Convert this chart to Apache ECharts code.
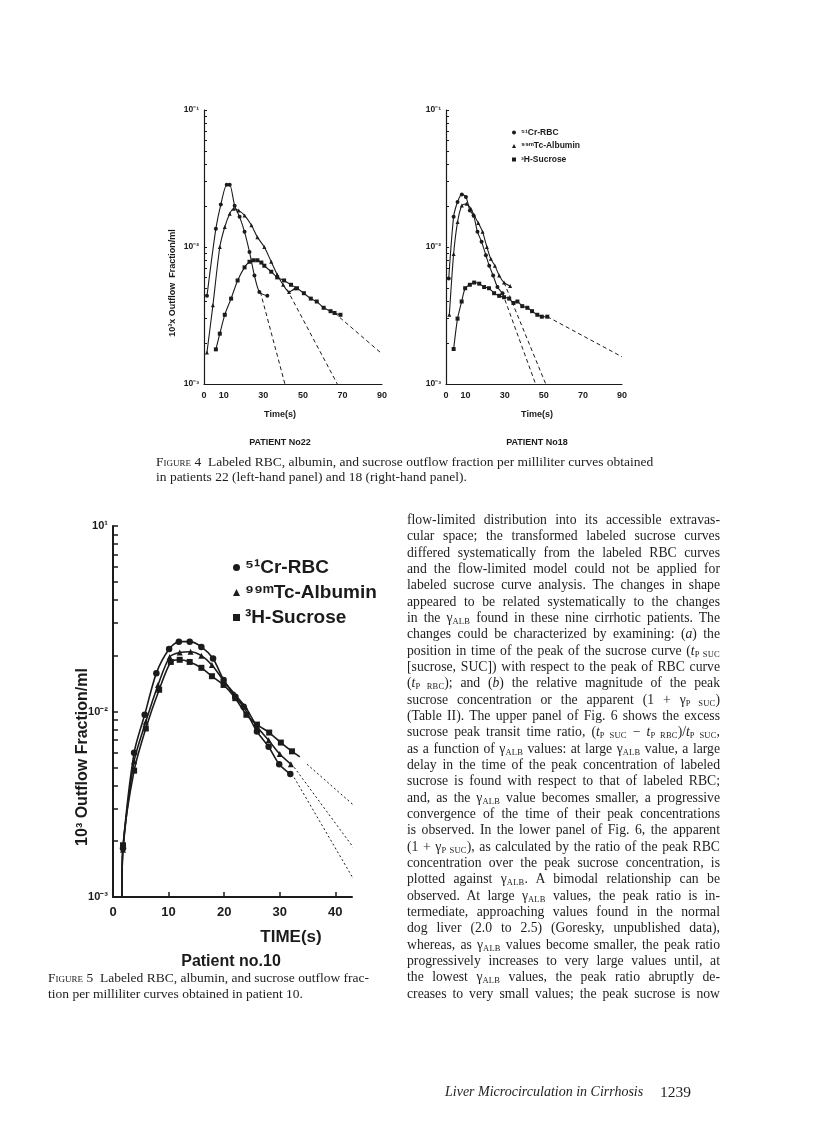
<!DOCTYPE html>
<html>
<head>
<meta charset="utf-8">
<script src="https://cdn.jsdelivr.net/npm/echarts@6/dist/echarts.min.js"></script>
<style>
html,body{margin:0;padding:0;background:#fff;}
#page{position:relative;width:816px;height:1122px;overflow:hidden;background:#fff;}
#chart{position:absolute;left:0;top:0;width:816px;height:1122px;}
.t{position:absolute;font-family:"Liberation Serif","DejaVu Serif",serif;color:#1d1d1d;}
.col{left:407px;top:512px;width:313px;font-size:13.7px;}
.ln{height:16.34px;line-height:16.34px;white-space:nowrap;text-align:justify;text-align-last:justify;}
.ln.l{text-align:left;text-align-last:left;}
sub{font-size:8.5px;vertical-align:-2px;line-height:0;letter-spacing:0.2px;}
.sc{font-variant:small-caps;}
.cap{font-size:13.5px;}
</style>
</head>
<body>
<div id="page">
<div id="chart"></div>

<div class="t cap" style="left:156px;top:454px;width:540px;">
  <div class="ln l" style="height:15px;line-height:15px;"><span class="sc">Figure 4</span>&nbsp;&nbsp;Labeled RBC, albumin, and sucrose outflow fraction per milliliter curves obtained</div>
  <div class="ln l" style="height:15px;line-height:15px;">in patients 22 (left-hand panel) and 18 (right-hand panel).</div>
</div>

<div class="t cap" style="left:48px;top:970px;width:321px;">
  <div class="ln" style="height:16px;line-height:16px;"><span class="sc">Figure 5</span>&nbsp;&nbsp;Labeled RBC, albumin, and sucrose outflow frac-</div>
  <div class="ln l" style="height:16px;line-height:16px;">tion per milliliter curves obtained in patient 10.</div>
</div>

<div class="t col">
<div class="ln">flow-limited distribution into its accessible extravas-</div>
<div class="ln">cular space; the transformed labeled sucrose curves</div>
<div class="ln">differed systematically from the labeled RBC curves</div>
<div class="ln">and the flow-limited model could not be applied for</div>
<div class="ln">labeled sucrose curve analysis. The changes in shape</div>
<div class="ln">appeared to be related systematically to the changes</div>
<div class="ln">in the γ<sub>ALB</sub> found in these nine cirrhotic patients. The</div>
<div class="ln">changes could be characterized by examining: (<i>a</i>) the</div>
<div class="ln">position in time of the peak of the sucrose curve (<i>t</i><sub>P SUC</sub></div>
<div class="ln">[sucrose, SUC]) with respect to the peak of RBC curve</div>
<div class="ln">(<i>t</i><sub>P RBC</sub>); and (<i>b</i>) the relative magnitude of the peak</div>
<div class="ln">sucrose concentration or the apparent (1 + γ<sub>P SUC</sub>)</div>
<div class="ln">(Table II). The upper panel of Fig. 6 shows the excess</div>
<div class="ln">sucrose peak transit time ratio, (<i>t</i><sub>P SUC</sub> − <i>t</i><sub>P RBC</sub>)/<i>t</i><sub>P SUC</sub>,</div>
<div class="ln">as a function of γ<sub>ALB</sub> values: at large γ<sub>ALB</sub> value, a large</div>
<div class="ln">delay in the time of the peak concentration of labeled</div>
<div class="ln">sucrose is found with respect to that of labeled RBC;</div>
<div class="ln">and, as the γ<sub>ALB</sub> value becomes smaller, a progressive</div>
<div class="ln">convergence of the time of their peak concentrations</div>
<div class="ln">is observed. In the lower panel of Fig. 6, the apparent</div>
<div class="ln">(1 + γ<sub>P SUC</sub>), as calculated by the ratio of the peak RBC</div>
<div class="ln">concentration over the peak sucrose concentration, is</div>
<div class="ln">plotted against γ<sub>ALB</sub>. A bimodal relationship can be</div>
<div class="ln">observed. At large γ<sub>ALB</sub> values, the peak ratio is in-</div>
<div class="ln">termediate, approaching values found in the normal</div>
<div class="ln">dog liver (2.0 to 2.5) (Goresky, unpublished data),</div>
<div class="ln">whereas, as γ<sub>ALB</sub> values become smaller, the peak ratio</div>
<div class="ln">progressively increases to very large values until, at</div>
<div class="ln">the lowest γ<sub>ALB</sub> values, the peak ratio abruptly de-</div>
<div class="ln">creases to very small values; the peak sucrose is now</div>
</div>

<div class="t" style="left:445px;top:1084px;font-size:14px;font-style:italic;white-space:nowrap;">Liver Microcirculation in Cirrhosis</div>
<div class="t" style="left:660px;top:1083px;font-size:15.5px;white-space:nowrap;">1239</div>
</div>

<script>
// ---------- DATA (time in s, outflow fraction per ml) ----------
// Patient 22 (Figure 4, left panel)
const p22Rbc = [[1.5,0.0044],[6,0.0136],[8.5,0.0204],[11.5,0.0285],[13,0.0285],[15.5,0.020],[18,0.0166],[20.5,0.0129],[23,0.0092],[25.5,0.0062],[28,0.0047],[32,0.0044]];
const p22Alb = [[1.5,0.0017],[4.5,0.00375],[8,0.0100],[10.5,0.0140],[13,0.0175],[15,0.0190],[17.5,0.0185],[20.5,0.0170],[24,0.0144],[27,0.0118],[30.5,0.0100],[34,0.0078],[37,0.0063],[40,0.0053],[43,0.0047],[46,0.0050]];
const p22Suc = [[6,0.00179],[8,0.00233],[10.5,0.0032],[13.7,0.0042],[17,0.0057],[20.5,0.0071],[23,0.0078],[25,0.0080],[27,0.0080],[29,0.0077],[30.5,0.0073],[34,0.0066],[37,0.0060],[40.5,0.0057],[44,0.0053],[47,0.0050],[50.5,0.0046],[54,0.0042],[57,0.0040],[60.5,0.0036],[64,0.0034],[66,0.0033],[69,0.0032]];
const p22RbcExt = [[28.5,0.0047],[40.9,0.001]];
const p22AlbExt = [[42,0.0049],[67.4,0.001]];
const p22SucExt = [[66,0.0033],[90,0.00166]];

// Patient 18 (Figure 4, right panel)
const p18Rbc = [[1.4,0.0059],[3.9,0.0166],[5.9,0.0213],[8.1,0.0242],[10.2,0.0232],[12.2,0.0185],[14.1,0.017],[16.1,0.0129],[18.2,0.0109],[20.4,0.0087],[22.1,0.0073],[24.1,0.0062],[26.3,0.0051],[28.9,0.0046]];
const p18Alb = [[1.7,0.0032],[3.9,0.0089],[5.9,0.0152],[8.1,0.0201],[10.5,0.0207],[12.7,0.019],[14.4,0.017],[16.5,0.0150],[18.7,0.0129],[20.9,0.0100],[22.9,0.0082],[25,0.0073],[27.2,0.0062],[29.7,0.0055],[32.8,0.0052]];
const p18Suc = [[3.9,0.0018],[5.9,0.0030],[8,0.0040],[9.8,0.0050],[12.2,0.0053],[14.4,0.0055],[17,0.0054],[19.5,0.0051],[22,0.0050],[24.6,0.0046],[27.2,0.0044],[29.7,0.0043],[32.3,0.0042],[34.5,0.0039],[36.5,0.0040],[39,0.0037],[41.6,0.0036],[44,0.0034],[46.7,0.0032],[49,0.0031],[51.8,0.0031]];
const p18RbcExt = [[28.9,0.0046],[45.8,0.001]];
const p18AlbExt = [[29.7,0.0055],[51,0.001]];
const p18SucExt = [[51.8,0.0031],[90,0.00158]];

// Patient 10 (Figure 5)
const p10Start = [1.6,0.001];
const p10Rbc = [[1.8,0.00183],[3.8,0.0060],[5.7,0.0096],[7.8,0.0161],[10.1,0.0217],[11.85,0.0238],[13.8,0.0238],[15.9,0.0223],[18.0,0.0193],[19.9,0.0148],[22.0,0.0120],[23.5,0.0106],[25.9,0.0078],[28.0,0.00646],[29.9,0.0052],[31.9,0.0046]];
const p10Alb = [[1.8,0.0018],[3.8,0.0054],[5.9,0.0088],[8.1,0.0139],[10.2,0.0197],[12.0,0.0208],[13.95,0.021],[15.9,0.020],[17.8,0.0178],[19.8,0.0148],[21.9,0.0124],[23.8,0.0106],[25.9,0.0083],[28.0,0.0070],[30.0,0.0059],[32.0,0.0052]];
const p10Suc = [[1.8,0.0019],[3.8,0.0048],[5.9,0.0081],[8.3,0.0131],[10.4,0.0185],[12.0,0.0190],[13.8,0.0185],[15.9,0.0172],[17.8,0.0155],[19.9,0.0139],[22.0,0.0118],[24.0,0.0096],[25.9,0.0085],[28.1,0.0077],[30.2,0.0068],[32.2,0.0061]];
const p10SucTail = [33.6,0.0057];
const p10RbcExt = [[32.6,0.0044],[43.9,0.00116]];
const p10AlbExt = [[32.6,0.0050],[44.2,0.00169]];
const p10SucExt = [[34.9,0.0052],[44.3,0.00294]];

// Tick labels
const fig4XTicks = [0,10,30,50,70,90];
const fig5XTicks = [0,10,20,30,40];
const fig4YLabels = {'-1':'10⁻¹','-2':'10⁻²','-3':'10⁻³'};
const fig5YLabels = {'-1':'10¹','-2':'10⁻²','-3':'10⁻³'};
const names = ['⁵¹Cr-RBC','⁹⁹ᵐTc-Albumin','³H-Sucrose'];

// ---------- CHART ----------
const INK = '#1b1b1b';
const FONT = '"Liberation Sans", Arial, sans-serif';
const lg = v => Math.log10(v);
const toLog = arr => arr.map(p => [p[0], lg(p[1])]);

// log-decade tick positions 1..9 x 10^d
const yTicks = [];
for (const d of [-3,-2]) for (let k=1;k<=9;k++) yTicks.push(Math.log10(k)+d);
yTicks.push(-1);

const chart = echarts.init(document.getElementById('chart'), null, {renderer:'canvas'});

function xAxis(gi, max, ticks, big) {
  return {
    type:'value', gridIndex:gi, min:0, max:max,
    axisLine:{show:true, lineStyle:{color:INK, width: big?2:1.2}},
    axisTick:{show: big, inside:true, length:5, customValues: ticks, lineStyle:{color:INK,width:1.5}},
    axisLabel:{customValues: ticks, color:INK, fontFamily:FONT, fontWeight:'bold', fontSize: big?13:9, margin: big?9:7},
    splitLine:{show:false}
  };
}
function yAxis(gi, labels, big) {
  return {
    type:'value', gridIndex:gi, min:-3, max:-1, interval:1,
    axisLine:{show:true, lineStyle:{color:INK, width: big?2:1.2}},
    axisTick:{show:true, inside:true, length: big?5:3, customValues: yTicks, lineStyle:{color:INK, width: big?1.5:1}},
    axisLabel:{color:INK, fontFamily:FONT, fontWeight:'bold', fontSize: big?11:8.5, margin: big?5:5,
      formatter: v => labels[String(Math.round(v))] || ''},
    splitLine:{show:false}
  };
}
function curve(name, data, gi, sym, size, w, extra) {
  let d = toLog(data);
  if (extra) d = extra(d);
  return {
    type:'line', name, xAxisIndex:gi, yAxisIndex:gi, data:d,
    symbol:sym, symbolSize:size, smooth:0.25, showSymbol:true,
    lineStyle:{color:INK, width:w}, itemStyle:{color:INK},
    emphasis:{disabled:true}, animation:false, z:3
  };
}
function ext(name, data, gi, dash) {
  return {
    type:'line', name, xAxisIndex:gi, yAxisIndex:gi, data:toLog(data),
    symbol:'none', clip:false, silent:true,
    lineStyle:{color:INK, width:1, type:dash},
    emphasis:{disabled:true}, animation:false, z:2
  };
}
const startPt = d => [{value:[p10Start[0], lg(p10Start[1])], symbol:'none'}].concat(d);
const D4 = [4,3], D5 = [2,2.5];

const series = [
  curve(names[0], p22Rbc, 0, 'circle', 4, 1.1),
  curve(names[1], p22Alb, 0, 'triangle', 4, 1.1),
  curve(names[2], p22Suc, 0, 'rect', 4, 1.1),
  ext(names[0], p22RbcExt, 0, D4), ext(names[1], p22AlbExt, 0, D4), ext(names[2], p22SucExt, 0, D4),

  curve(names[0], p18Rbc, 1, 'circle', 4, 1.1),
  curve(names[1], p18Alb, 1, 'triangle', 4, 1.1),
  curve(names[2], p18Suc, 1, 'rect', 4, 1.1),
  ext(names[0], p18RbcExt, 1, D4), ext(names[1], p18AlbExt, 1, D4), ext(names[2], p18SucExt, 1, D4),

  curve(names[0], p10Rbc, 2, 'circle', 6.5, 1.6, startPt),
  curve(names[1], p10Alb, 2, 'triangle', 6, 1.6, startPt),
  curve(names[2], p10Suc, 2, 'rect', 6, 1.6, d => startPt(d).concat([{value:[p10SucTail[0], lg(p10SucTail[1])], symbol:'none'}])),
  ext(names[0], p10RbcExt, 2, D5), ext(names[1], p10AlbExt, 2, D5), ext(names[2], p10SucExt, 2, D5)
];

const legendData = [
  {name:names[0], icon:'circle'},
  {name:names[1], icon:'triangle'},
  {name:names[2], icon:'rect'}
];

function label(text, x, y, size, rot) {
  return {type:'text', x, y, rotation: rot||0, silent:true,
    style:{text, fill:INK, font:'bold '+size+'px '+FONT, align:'center', verticalAlign:'middle'}};
}

chart.setOption({
  animation:false,
  backgroundColor:'transparent',
  grid:[
    {left:204, top:110, width:178, height:274},
    {left:446, top:110, width:176, height:274},
    {left:113, top:526, width:239, height:371}
  ],
  xAxis:[ xAxis(0, 90, fig4XTicks, false), xAxis(1, 90, fig4XTicks, false), xAxis(2, 43, fig5XTicks, true) ],
  yAxis:[ yAxis(0, fig4YLabels, false), yAxis(1, fig4YLabels, false), yAxis(2, fig5YLabels, true) ],
  legend:[
    {data:legendData, orient:'vertical', left:507, top:123, itemWidth:4, itemHeight:4, itemGap:4.5,
     selectedMode:false, textStyle:{color:INK, fontFamily:FONT, fontWeight:'bold', fontSize:8.5}},
    {data:legendData, orient:'vertical', left:228, top:553, itemWidth:7, itemHeight:7, itemGap:6,
     selectedMode:false, textStyle:{color:INK, fontFamily:FONT, fontWeight:'bold', fontSize:19}}
  ],
  graphic:[
    label('10³x Outflow  Fraction/ml', 173, 283, 9, Math.PI/2),
    label('Time(s)', 280, 415, 9),
    label('Time(s)', 537, 415, 9),
    label('PATIENT No22', 280, 443, 9),
    label('PATIENT No18', 537, 443, 9),
    label('10³ Outflow Fraction/ml', 83, 757, 16, Math.PI/2),
    label('TIME(s)', 291, 937, 17),
    label('Patient no.10', 231, 962, 16)
  ],
  series
});
</script>
</body>
</html>
